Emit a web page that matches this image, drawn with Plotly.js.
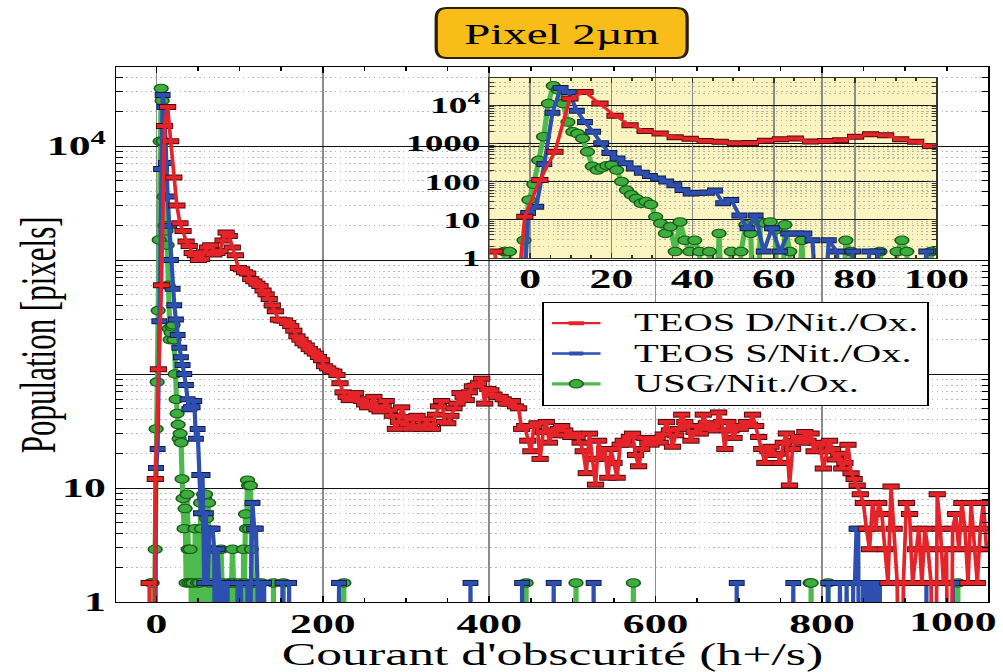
<!DOCTYPE html>
<html>
<head>
<meta charset="utf-8">
<script src="https://cdn.plot.ly/plotly-3.0.1.min.js"></script>
<style>
html,body{margin:0;padding:0;overflow:hidden;background:#fff;}
#chart{width:620px;height:672px;transform:scaleX(1.6177);transform-origin:0 0;}
</style>
</head>
<body>
<div id="chart"></div>
<script>
// ---------------- DATA (population in pixels) ----------------
// TEOS D/Nit./Ox. : histogram, bins of 3.7 h+/s starting at -8.7
const redBinStart = -8.7;
const redBinWidth = 3.7;
const redPop = [
  1.47, 0, 12, 110, 600, 15000, 22000, 11000, 5300, 3000,
  2100, 1800, 1450, 1330, 1150, 1100, 1000, 1020, 1170, 1290,
  1350, 1120, 1150, 1200, 1480, 1740, 1620, 1290, 1100, 850,
  830, 780, 760, 680, 650, 620, 590, 540, 500, 455,
  400, 355, 300, 295, 295, 280, 263, 240, 214, 200,
  186, 178, 166, 158, 151, 141, 132, 117, 112, 107,
  105, 98, 83, 69, 63, 59, 63, 68, 60, 58,
  54, 51, 55, 63, 49, 47, 52, 58, 48, 43,
  33, 38, 51, 42, 36, 33, 40, 43, 35, 33,
  40, 36, 33, 44, 52, 58, 38, 37, 43, 50,
  55, 68, 63, 59, 69, 78, 79, 83, 91, 55,
  74, 72, 66, 63, 63, 60, 55, 55, 58, 52,
  50, 33, 35, 26, 21, 35, 37, 18, 31, 38,
  25, 32, 29, 33, 35, 32, 29, 28, 30, 28,
  25, 21, 13.5, 30, 18, 10.7, 26, 18, 22, 12.3,
  22, 16.6, 12.3, 24, 26, 24, 28, 30, 19.5, 15.5,
  22, 27.5, 25, 24, 26, 27.5, 25, 29.5, 38, 32,
  23, 29, 33, 44, 38, 35, 26, 31, 35, 30,
  44, 37, 33, 35, 32, 46, 38, 22, 38, 32,
  27.5, 35, 33, 35, 38, 36, 44, 35, 28, 22,
  16.6, 21, 23, 19.5, 20, 16.6, 25, 30, 10.5, 22,
  26, 28, 25, 31, 26, 30, 21, 25, 24, 14.8,
  21, 26, 22, 17.8, 20, 14.8, 16.6, 24, 13.5, 12,
  10.5, 8.8, 7.4, 4.4, 2.9, 7.4, 4.4, 7.4, 5.9, 2.9,
  1.47, 10.3, 4.4, 1.47, 0, 1.47, 7.4, 5.9, 1.47, 2.9,
  4.4, 1.47, 4.4, 2.9, 1.47, 0, 8.8, 4.4, 1.47, 2.9,
  0, 4.4, 5.9, 2.9, 7.4, 4.4, 1.47, 7.4, 2.9, 1.47,
  4.4, 7.4, 2.9
];

// TEOS S/Nit./Ox.
const blueCurrent = [
  -2.5, -0.5, 1.5, 3.5, 5.5, 7.5, 9.5, 11.5, 13.5, 15.5,
  17.5, 19.5, 21.5, 23.5, 25.5, 27.5, 29.5, 31.5, 33.5, 35.5,
  37.5, 39.5, 41.5, 43.5, 45.5, 47.5, 49.5, 51.5, 53.5, 55.5,
  57.5, 59.5, 61.5, 63.5, 65.5, 67.5, 69.5, 71.5, 73.5, 75.5,
  77.5, 79.5, 81.5, 83.5, 85.5, 87.5,
  95.5, 97.5, 99.5, 101.5, 103.5,
  107.5, 109.5, 111.5, 113.5, 115.5, 117.5, 119.5, 121.5, 123.5, 125.5, 127.5, 129.5, 131.5,
  149.5, 151.5, 153.5, 157.5, 159.5, 161.5, 217.5, 219.5, 221.5,
  375.5, 377.5, 379.5, 437.5, 439.5, 441.5, 475.5, 477.5, 479.5,
  523.5, 525.5, 527.5, 695.5, 697.5, 699.5, 763.5, 765.5, 767.5,
  805.5, 807.5, 809.5, 819.5, 821.5, 823.5, 827.5, 829.5, 831.5,
  835.5, 837.5, 839.5, 841.5, 843.5, 845.5, 849.5, 851.5, 853.5,
  855.5, 857.5, 859.5, 861.5, 863.5, 865.5, 867.5, 869.5, 871.5,
  923.5, 925.5, 927.5, 955.5, 957.5, 959.5
];
const bluePop = [
  0, 15, 22, 290, 6300, 28000, 22000, 7100, 3600, 2000,
  1000, 560, 400, 300, 220, 170, 140, 120, 100, 80,
  60, 49, 51, 51, 58, 27, 33, 13, 6, 13,
  1.47, 6, 1.47, 4.4, 4.4, 4.4, 2.9, 0, 2.9, 1.47,
  0, 1.47, 0, 1.47, 1.47, 0,
  0, 1.47, 0, 1.47, 0,
  0, 1.47, 0, 1.47, 7.4, 4.4, 4.4, 1.47, 0, 1.47, 0, 1.47, 0,
  0, 1.47, 0, 0, 1.47, 0, 0, 1.47, 0,
  0, 1.47, 0, 0, 1.47, 0, 0, 1.47, 0,
  0, 1.47, 0, 0, 1.47, 0, 0, 1.47, 0,
  0, 1.47, 0, 0, 1.47, 0, 0, 1.47, 0,
  0, 1.47, 1.47, 4.4, 4.4, 0, 1.47, 1.47, 0,
  1.47, 1.47, 0, 1.47, 1.47, 0, 1.47, 1.47, 0,
  0, 1.47, 0, 0, 1.47, 0
];

// USG/Nit./Ox.
const greenCurrent = [
  -7.5, -6.3, -5.1, -3.9, -2.7, -1.5, -0.3, 0.9, 2.1, 3.3,
  4.5, 5.7, 6.9, 8.1, 9.3, 10.5, 11.7, 12.9, 14.1, 15.3,
  16.5, 17.7, 18.9, 20.1, 21.3, 22.5, 23.7, 24.9, 26.1, 27.3,
  28.5, 29.7, 30.9, 32.1, 33.3, 34.5, 35.7, 36.9, 38.1, 39.3,
  40.5, 41.7, 42.9, 44.1, 45.3, 46.5, 47.7, 49.5, 50.7, 51.9,
  53.1, 54.3, 55.5, 56.7, 57.9, 59.1, 60.3, 61.5, 62.7, 63.9,
  65.1, 66.9, 68.1, 76.5, 77.7, 78.9, 80.1, 84.9, 86.1, 87.3,
  89.1, 90.3, 91.5, 92.7, 93.9, 97.5, 98.7, 99.9, 103.5, 104.7,
  105.9, 107.1, 108.3, 109.5, 110.7, 111.9, 113.1, 114.3, 115.5, 116.7,
  119.7, 120.9, 122.1, 125.1, 126.3, 127.5, 139.5, 140.7, 141.9, 151.5,
  152.7, 153.9, 224.1, 225.3, 226.5, 443.1, 444.3, 445.5, 503.1, 504.3,
  505.5, 572.1, 573.3, 574.5, 784.5, 785.7, 786.9, 788.1, 806.1, 807.3,
  808.5, 962.1, 963.3, 964.5
];
const greenPop = [
  0, 1.47, 1.47, 0, 0, 2.9, 33, 85, 360, 1500,
  11000, 32000, 25000, 11000, 3600, 2000, 1800, 1350, 600, 250,
  200, 230, 260, 270, 200, 100, 60, 45, 36, 27,
  30, 25, 12, 8.1, 4.4, 6.6, 1.47, 8.8, 2.9, 1.47,
  2.9, 1.47, 0, 1.47, 0, 4.4, 0, 1.47, 0, 1.47,
  7.4, 4.4, 0, 8.8, 8.1, 8.8, 5.4, 0, 7.4, 1.47,
  0, 2.9, 0, 0, 2.9, 1.47, 0, 0, 1.47, 0,
  0, 1.47, 2.9, 1.47, 0, 0, 1.47, 0, 0, 2.9,
  1.47, 5.9, 4.4, 11.7, 10.5, 4.4, 10.5, 2.9, 1.47, 0,
  0, 1.47, 0, 0, 1.47, 0, 0, 1.47, 0, 0,
  1.47, 0, 0, 1.47, 0, 0, 1.47, 0, 0, 1.47,
  0, 0, 1.47, 0, 0, 1.47, 1.47, 0, 0, 1.47,
  0, 0, 1.47, 0
];

const seriesNames = ['TEOS D/Nit./Ox.', 'TEOS S/Nit./Ox.', 'USG/Nit./Ox.'];
const mainXTicks = [0, 200, 400, 600, 800, 1000];
const popTicks = [1, 10, 100, 1000, 10000];
const mainPopLabels = ['1', '10', '', '', '10<sup>4</sup>'];
const insetPopLabels = ['1', '10', '100', '1000', '10<sup>4</sup>'];
const insetXTicks = [0, 20, 40, 60, 80, 100];

// ---------------- DRAWING ----------------
const redCurrent = redPop.map((_, i) => +(redBinStart + i * redBinWidth).toFixed(2));
// empty bins (0) fall below the log axis: the line drops out of the frame
const onLog = arr => arr.map(v => (v > 0 ? v : 1e-3));

const FONT = 'Liberation Serif, Times New Roman, serif';
const RED = '#E5242A', BLUE = '#2C4FB0', GREEN = '#3DAE3D';
const PAD = '\u00a0\u00a0\u00a0';
const legendName = n => PAD + '<span style="font-size:25px">' + n + '</span>';

function barTraces(x, y, xa, ya, color, dark, lw, sz, name, legend) {
  return [
    {x: x, y: onLog(y), xaxis: xa, yaxis: ya, mode: 'markers', showlegend: false, hoverinfo: 'skip',
     marker: {symbol: 'line-ew', size: sz + 0.8, line: {color: dark, width: 6}}},
    {x: x, y: onLog(y), xaxis: xa, yaxis: ya, mode: 'lines+markers', name: legendName(name), showlegend: legend,
     line: {color: color, width: lw},
     marker: {symbol: 'line-ew', size: sz, color: color, line: {color: color, width: 4}}}
  ];
}
function greenTrace(xa, ya, legend) {
  return {x: greenCurrent, y: onLog(greenPop), xaxis: xa, yaxis: ya, mode: 'lines+markers',
    name: legendName(seriesNames[2]), showlegend: legend,
    line: {color: '#4DBA4D', width: 3.2},
    marker: {symbol: 'circle', size: 8.5, color: GREEN, line: {color: '#1A5A1A', width: 1}}};
}

const traces = [
  greenTrace('x', 'y', true),
  ...barTraces(blueCurrent, bluePop, 'x', 'y', BLUE, '#0E1B48', 2.6, 6.2, seriesNames[1], true),
  ...barTraces(redCurrent, redPop, 'x', 'y', RED, '#4A0808', 2.3, 6.8, seriesNames[0], true),
  greenTrace('x2', 'y2', false),
  ...barTraces(blueCurrent, bluePop, 'x2', 'y2', BLUE, '#0E1B48', 2.6, 6.2, seriesNames[1], false),
  ...barTraces(redCurrent, redPop, 'x2', 'y2', RED, '#4A0808', 2.3, 6.8, seriesNames[0], false)
];

const S = 1.6177;                 // horizontal stretch of the page
const W = 620, H = 672;
const ML = 117 / S, MR = 14 / S, MT = 67, MB = 70;
const PW = W - ML - MR, PH = H - MT - MB;

// title box (paper coordinates)
const bx0 = 0.3667, bx1 = 0.6545, by0 = 1.0168, by1 = 1.1103;
const rx = 6.5 / PW, ry = 10 / PH;
const boxPath = `M ${bx0 + rx},${by0} L ${bx1 - rx},${by0} Q ${bx1},${by0} ${bx1},${by0 + ry} L ${bx1},${by1 - ry} Q ${bx1},${by1} ${bx1 - rx},${by1} L ${bx0 + rx},${by1} Q ${bx0},${by1} ${bx0},${by1 - ry} L ${bx0},${by0 + ry} Q ${bx0},${by0} ${bx0 + rx},${by0} Z`;

const tickFont = {family: FONT, size: 27, color: '#000', weight: 'bold'};
const DOTS = '1px,2px';

const layout = {
  width: W, height: H,
  margin: {l: ML, r: MR, t: MT, b: MB, pad: 0},
  paper_bgcolor: '#ffffff',
  plot_bgcolor: 'rgba(0,0,0,0)',
  font: {family: FONT, color: '#000'},
  title: {text: 'Pixel 2µm', font: {family: FONT, size: 29, color: '#000'},
          xref: 'paper', x: 0.5106, xanchor: 'center', yref: 'container', y: 1 - 34 / H, yanchor: 'middle'},
  xaxis: {
    domain: [0, 1], anchor: 'y', range: [-48, 1000],
    tickmode: 'array', tickvals: mainXTicks.slice(0, 5), ticktext: mainXTicks.slice(0, 5).map(String),
    showgrid: true, gridcolor: '#8C8C8C', gridwidth: 1, zeroline: false,
    showline: true, linecolor: '#000', linewidth: 1.2, mirror: 'allticks',
    ticks: 'inside', ticklen: 6, tickcolor: '#000', tickwidth: 1,
    tickfont: tickFont, ticklabelstandoff: -3,
    minor: {tickmode: 'linear', tick0: 0, dtick: 50, ticks: 'inside', ticklen: 4, tickcolor: '#000', showgrid: false},
    title: {text: "Courant d'obscurité (h+/s)", font: {family: FONT, size: 32, color: '#000'}, standoff: 9}
  },
  yaxis: {
    domain: [0, 1], anchor: 'x', type: 'log', range: [0, 4.693],
    tickmode: 'array', tickvals: popTicks, ticktext: mainPopLabels,
    showgrid: true, gridcolor: '#111', gridwidth: 1,
    showline: true, linecolor: '#000', linewidth: 1.2, mirror: 'allticks',
    ticks: 'inside', ticklen: 6, tickcolor: '#000',
    tickfont: tickFont,
    minor: {dtick: 'D1', ticks: 'inside', ticklen: 4, tickcolor: '#000', showgrid: true,
            gridcolor: '#B8B8B8', griddash: DOTS, gridwidth: 1}
  },
  xaxis2: {
    domain: [0.4278, 0.9404], anchor: 'y2', range: [-10, 100],
    tickmode: 'array', tickvals: insetXTicks, ticktext: insetXTicks.map(String),
    showgrid: true, gridcolor: '#8C8C8C', gridwidth: 1, zeroline: false,
    showline: true, linecolor: '#333', linewidth: 1, mirror: 'allticks',
    ticks: 'inside', ticklen: 5, tickcolor: '#333',
    tickfont: tickFont, ticklabelstandoff: -3,
    minor: {tickmode: 'linear', tick0: 0, dtick: 5, ticks: 'inside', ticklen: 3, tickcolor: '#333', showgrid: false}
  },
  yaxis2: {
    domain: [0.643, 0.9794], anchor: 'x2', type: 'log', range: [0, 4.71],
    tickmode: 'array', tickvals: popTicks, ticktext: insetPopLabels,
    showgrid: true, gridcolor: '#111', gridwidth: 1,
    showline: true, linecolor: '#333', linewidth: 1, mirror: 'allticks',
    ticks: 'inside', ticklen: 5, tickcolor: '#333',
    tickfont: {family: FONT, size: 23, color: '#000', weight: 'bold'},
    minor: {dtick: 'D1', ticks: 'inside', ticklen: 3, tickcolor: '#333', showgrid: true,
            gridcolor: '#B4B4A0', griddash: DOTS, gridwidth: 1}
  },
  showlegend: true,
  legend: {
    x: 0.488, y: 0.561, xanchor: 'left', yanchor: 'top', xref: 'paper', yref: 'paper',
    bgcolor: '#ffffff', bordercolor: '#000', borderwidth: 1.2,
    font: {family: FONT, size: 21, color: '#000'},
    traceorder: 'reversed', itemwidth: 30, tracegroupgap: 0
  },
  shapes: [
    {type: 'rect', xref: 'paper', yref: 'paper', x0: 0.4278, x1: 0.9404, y0: 0.643, y1: 0.9794,
     fillcolor: '#FAF4C1', line: {width: 0}, layer: 'below'},
    {type: 'path', xref: 'paper', yref: 'paper', path: boxPath,
     fillcolor: '#F8BD19', line: {color: '#2A2000', width: 2}, layer: 'below'}
  ],
  annotations: [
    {xref: 'x', x: mainXTicks[5], yref: 'paper', y: 0, xanchor: 'right', yanchor: 'top',
     xshift: 6.5, yshift: -3, text: String(mainXTicks[5]), showarrow: false, font: tickFont},
    {xref: 'paper', x: (38 / S - ML) / PW, xanchor: 'center', yref: 'paper', y: 0.499, yanchor: 'middle',
     text: 'Population [pixels]', textangle: -90, showarrow: false,
     font: {family: FONT, size: 31, color: '#000'}}
  ]
};

Plotly.newPlot('chart', traces, layout, {displayModeBar: false, staticPlot: true});
</script>
</body>
</html>
